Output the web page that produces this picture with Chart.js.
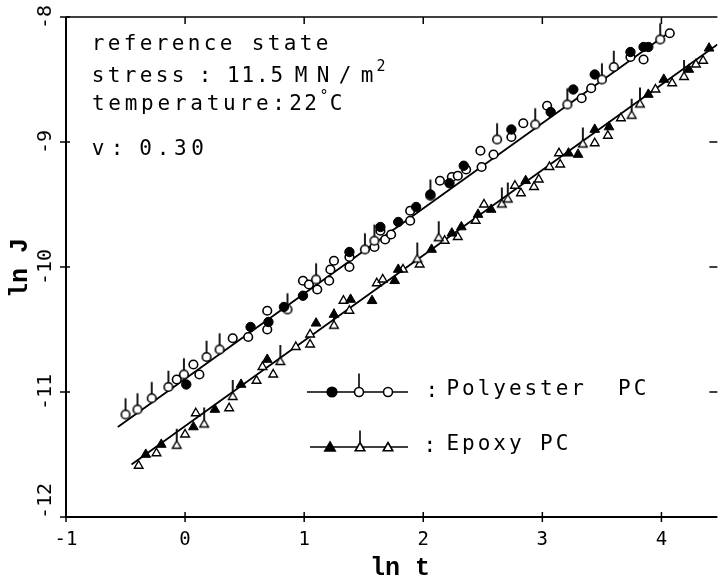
<!DOCTYPE html>
<html><head><meta charset="utf-8">
<script src="https://cdn.jsdelivr.net/npm/chart.js@4.4.0/dist/chart.umd.min.js"></script>
<style>html,body{margin:0;padding:0;background:#fff}canvas{display:block}</style>
</head><body>
<canvas id="c" width="724" height="582"></canvas>
<script>
// ---------- data (ln t, ln J) ----------
const polyFilledX = [0.01, 0.55, 0.70, 0.83, 0.99, 1.38, 1.64, 1.79, 1.94, 2.06, 2.22, 2.34, 2.74, 3.07, 3.26, 3.44, 3.74, 3.85, 3.89];
const polyFilledY = [-10.94, -10.48, -10.44, -10.32, -10.23, -9.88, -9.68, -9.64, -9.52, -9.42, -9.33, -9.19, -8.90, -8.76, -8.58, -8.46, -8.28, -8.24, -8.24];

const polyPipX = [-0.50, -0.40, -0.28, -0.14, -0.01, 0.18, 0.29, 0.86, 1.10, 1.51, 1.59, 2.06, 2.62, 2.94, 3.21, 3.50, 3.60, 3.99];
const polyPipY = [-11.18, -11.14, -11.05, -10.96, -10.86, -10.72, -10.66, -10.34, -10.10, -9.86, -9.79, -9.43, -8.98, -8.86, -8.70, -8.50, -8.40, -8.18];

const polyOpenX = [-0.07, 0.07, 0.12, 0.40, 0.53, 0.69, 0.69, 0.99, 1.04, 1.11, 1.21, 1.22, 1.25, 1.38, 1.38, 1.59, 1.64, 1.68, 1.73, 1.89, 1.89, 2.14, 2.24, 2.29, 2.36, 2.48, 2.49, 2.59, 2.74, 2.84, 3.04, 3.33, 3.41, 3.74, 3.85, 4.07];
const polyOpenY = [-10.90, -10.78, -10.86, -10.57, -10.56, -10.35, -10.50, -10.11, -10.14, -10.18, -10.11, -10.02, -9.95, -9.92, -10.00, -9.84, -9.71, -9.78, -9.74, -9.55, -9.63, -9.31, -9.28, -9.27, -9.22, -9.07, -9.20, -9.10, -8.96, -8.85, -8.71, -8.65, -8.57, -8.32, -8.34, -8.13];

const epoxyFilledX = [-0.33, -0.20, 0.07, 0.25, 0.47, 0.69, 1.10, 1.25, 1.39, 1.57, 1.76, 1.79, 2.07, 2.24, 2.32, 2.46, 2.57, 2.86, 3.22, 3.30, 3.44, 3.56, 3.89, 4.02, 4.23, 4.40];
const epoxyFilledY = [-11.50, -11.42, -11.28, -11.14, -10.94, -10.74, -10.45, -10.38, -10.26, -10.27, -10.11, -10.02, -9.86, -9.73, -9.68, -9.58, -9.54, -9.31, -9.09, -9.10, -8.90, -8.88, -8.62, -8.50, -8.42, -8.25];

const epoxyPipX = [-0.07, 0.16, 0.40, 0.80, 1.25, 1.95, 2.13, 2.66, 2.71, 3.34, 3.75, 3.82, 4.19];
const epoxyPipY = [-11.43, -11.26, -11.04, -10.76, -10.47, -9.94, -9.77, -9.50, -9.46, -9.02, -8.79, -8.70, -8.48];

const epoxyOpenX = [-0.39, -0.24, 0.00, 0.09, 0.37, 0.60, 0.65, 0.74, 0.93, 1.05, 1.05, 1.38, 1.33, 1.61, 1.66, 1.83, 1.97, 2.18, 2.29, 2.44, 2.51, 2.77, 2.82, 2.93, 2.97, 3.06, 3.14, 3.15, 3.44, 3.55, 3.66, 3.95, 4.09, 4.29, 4.35];
const epoxyOpenY = [-11.59, -11.49, -11.34, -11.17, -11.13, -10.91, -10.80, -10.86, -10.64, -10.54, -10.62, -10.35, -10.27, -10.13, -10.10, -10.02, -9.98, -9.79, -9.76, -9.63, -9.50, -9.35, -9.41, -9.36, -9.30, -9.20, -9.09, -9.18, -9.01, -8.95, -8.81, -8.58, -8.53, -8.38, -8.35];

const polyFitX = [-0.565, 4.07];
const polyFitY = [-11.28, -8.12];
const epoxyFitX = [-0.45, 4.47];
const epoxyFitY = [-11.58, -8.22];

const xTicks = [-1, 0, 1, 2, 3, 4];
const xTickLabels = ['-1', '0', '1', '2', '3', '4'];
const yTicks = [-12, -11, -10, -9, -8];
const yTickLabels = ['-12', '-11', '-10', '-9', '-8'];

const xTitle = 'ln t';
const yTitle = 'ln J';
const legendLabels = ['Polyester  PC', 'Epoxy PC'];

// ---------- helpers ----------
const zip = (xs, ys) => xs.map((v, i) => ({x: v, y: ys[i]}));
const MONO = '"DejaVu Sans Mono", monospace';

function pipCanvas(kind, r, stick, lw) {
  const W = 2 * Math.ceil(r + 2), half = Math.ceil(r + stick + 2), H = 2 * half;
  const c = document.createElement('canvas'); c.width = W; c.height = H;
  const g = c.getContext('2d'); const cx = W / 2, cy = half;
  g.lineWidth = lw; g.strokeStyle = '#000'; g.fillStyle = '#fff';
  g.beginPath();
  if (kind === 'circle') {
    g.arc(cx, cy, r, 0, Math.PI * 2);
  } else {
    for (let i = 0; i < 3; i++) {
      const a = i * 2 * Math.PI / 3;
      const px = cx + Math.sin(a) * r, py = cy - Math.cos(a) * r;
      i ? g.lineTo(px, py) : g.moveTo(px, py);
    }
    g.closePath();
  }
  g.fill(); g.stroke();
  g.lineWidth = 1.8; g.beginPath(); g.moveTo(cx, cy - r); g.lineTo(cx, cy - r - stick); g.stroke();
  return c;
}
const pipCircle = pipCanvas('circle', 4.3, 12, 1.6);
const pipTri = pipCanvas('tri', 5, 12, 1.4);

function drawMarker(ctx, kind, filled, x, y, r, stick) {
  ctx.save();
  ctx.lineWidth = 1.6; ctx.strokeStyle = '#000'; ctx.fillStyle = filled ? '#000' : '#fff';
  ctx.beginPath();
  if (kind === 'circle') ctx.arc(x, y, r, 0, Math.PI * 2);
  else {
    for (let i = 0; i < 3; i++) {
      const a = i * 2 * Math.PI / 3;
      const px = x + Math.sin(a) * r, py = y - Math.cos(a) * r;
      i ? ctx.lineTo(px, py) : ctx.moveTo(px, py);
    }
    ctx.closePath();
  }
  ctx.fill(); ctx.stroke();
  if (stick) { ctx.lineWidth = 1.6; ctx.beginPath(); ctx.moveTo(x, y - r); ctx.lineTo(x, y - r - stick); ctx.stroke(); }
  ctx.restore();
}
function spaced(ctx, text, x, y, adv) {
  for (let i = 0; i < text.length; i++) {
    ctx.fillText(text[i], x + i * adv + adv / 2, y);
  }
}

const deco = {
  id: 'deco',
  afterDraw(chart) {
    const {ctx, chartArea: a, scales: {x, y}} = chart;
    ctx.save();
    ctx.strokeStyle = '#000'; ctx.fillStyle = '#000';
    // frame
    ctx.lineWidth = 2;
    ctx.beginPath(); ctx.moveTo(a.left, a.top); ctx.lineTo(a.left, a.bottom); ctx.lineTo(a.right, a.bottom); ctx.stroke();
    ctx.lineWidth = 1.5;
    ctx.beginPath(); ctx.moveTo(a.left, a.top); ctx.lineTo(a.right, a.top); ctx.stroke();
    // ticks
    ctx.lineWidth = 1.5;
    xTicks.forEach(v => {
      const px = x.getPixelForValue(v);
      ctx.beginPath(); ctx.moveTo(px, a.bottom - 5); ctx.lineTo(px, a.bottom + 5); ctx.stroke();
      ctx.beginPath(); ctx.moveTo(px, a.top); ctx.lineTo(px, a.top + 7); ctx.stroke();
    });
    yTicks.forEach(v => {
      const py = y.getPixelForValue(v);
      ctx.beginPath(); ctx.moveTo(a.left - 6, py); ctx.lineTo(a.left + 4, py); ctx.stroke();
      if (v > -12 && v < -8) { ctx.beginPath(); ctx.moveTo(a.right - 8, py); ctx.lineTo(a.right, py); ctx.stroke(); }
    });
    // tick labels
    ctx.font = '19px ' + MONO; ctx.textAlign = 'center'; ctx.textBaseline = 'alphabetic';
    xTicks.forEach((v, i) => ctx.fillText(xTickLabels[i], x.getPixelForValue(v), a.bottom + 28));
    ctx.font = '20px ' + MONO; ctx.textBaseline = 'middle';
    yTicks.forEach((v, i) => {
      const py = Math.min(y.getPixelForValue(v), a.bottom - 16);
      ctx.save(); ctx.translate(a.left - 20, Math.max(py, a.top - 2)); ctx.rotate(-Math.PI / 2);
      ctx.fillText(yTickLabels[i], 0, 0); ctx.restore();
    });
    // axis titles
    ctx.font = 'bold 25px "Liberation Mono", monospace'; ctx.textBaseline = 'alphabetic';
    ctx.fillText(xTitle, a.left + 334, a.bottom + 58);
    ctx.save(); ctx.translate(a.left - 39, a.top + 251); ctx.rotate(-Math.PI / 2);
    ctx.fillText(yTitle, 0, 0); ctx.restore();
    // annotation
    ctx.font = '21px ' + MONO; ctx.textAlign = 'center'; ctx.textBaseline = 'alphabetic';
    const L = a.left + 24;
    spaced(ctx, 'reference state', L, a.top + 33, 16);
    spaced(ctx, 'stress', L, a.top + 65, 16);
    spaced(ctx, ':', L + 107, a.top + 65, 16);
    spaced(ctx, '11.5', L + 136, a.top + 65, 14.5);
    spaced(ctx, 'MN/m', L + 200, a.top + 65, 22);
    ctx.font = '15px ' + MONO; ctx.fillText('2', L + 291, a.top + 54);
    ctx.font = '21px ' + MONO;
    spaced(ctx, 'temperature:', L, a.top + 93, 16.4);
    spaced(ctx, '22', L + 198, a.top + 93, 15);
    ctx.font = '15px ' + MONO; ctx.fillText('°', L + 234, a.top + 84);
    ctx.font = '21px ' + MONO; spaced(ctx, 'C', L + 238, a.top + 93, 16);
    spaced(ctx, 'v', L, a.top + 138, 16);
    spaced(ctx, ':', L + 19, a.top + 138, 16);
    spaced(ctx, '0.30', L + 47, a.top + 138, 17.3);
    // legend
    const r1 = a.top + 375, r2 = a.top + 430;
    ctx.lineWidth = 1.6;
    ctx.beginPath(); ctx.moveTo(a.left + 241, r1); ctx.lineTo(a.left + 342, r1); ctx.stroke();
    ctx.beginPath(); ctx.moveTo(a.left + 244, r2); ctx.lineTo(a.left + 342, r2); ctx.stroke();
    drawMarker(ctx, 'circle', true, a.left + 266, r1, 4.8, 0);
    drawMarker(ctx, 'circle', false, a.left + 293, r1, 4.5, 14);
    drawMarker(ctx, 'circle', false, a.left + 322, r1, 4.5, 0);
    drawMarker(ctx, 'tri', true, a.left + 264, r2 + 1, 6, 0);
    drawMarker(ctx, 'tri', false, a.left + 294, r2 + 1, 5.5, 12);
    drawMarker(ctx, 'tri', false, a.left + 322, r2 + 1, 5.5, 0);
    ctx.font = '21px ' + MONO; ctx.textBaseline = 'middle';
    spaced(ctx, ':', a.left + 358, r1, 15.6);
    spaced(ctx, legendLabels[0], a.left + 379, r1 - 2, 15.6);
    spaced(ctx, ':', a.left + 356, r2, 15.6);
    spaced(ctx, legendLabels[1], a.left + 379, r2 - 2, 15.6);
    ctx.restore();
  }
};

const openCircle = {pointStyle: 'circle', pointRadius: 4.3, pointBackgroundColor: '#fff', pointBorderColor: '#000', pointBorderWidth: 1.6};
const fillCircle = {pointStyle: 'circle', pointRadius: 4.7, pointBackgroundColor: '#000', pointBorderColor: '#000', pointBorderWidth: 1};
const openTri = {pointStyle: 'triangle', pointRadius: 5, pointBackgroundColor: '#fff', pointBorderColor: '#000', pointBorderWidth: 1.4};
const fillTri = {pointStyle: 'triangle', pointRadius: 5.6, pointBackgroundColor: '#000', pointBorderColor: '#000', pointBorderWidth: 1};
const fitStyle = {type: 'line', showLine: true, borderColor: '#000', borderWidth: 1.8, pointRadius: 0, fill: false, order: 10};

new Chart(document.getElementById('c'), {
  type: 'scatter',
  data: {
    datasets: [
      Object.assign({label: 'Polyester fit', data: zip(polyFitX, polyFitY)}, fitStyle),
      Object.assign({label: 'Epoxy fit', data: zip(epoxyFitX, epoxyFitY)}, fitStyle),
      Object.assign({label: 'Polyester open', data: zip(polyOpenX, polyOpenY), order: 3}, openCircle),
      Object.assign({label: 'Polyester pip', data: zip(polyPipX, polyPipY), order: 2, pointStyle: pipCircle}),
      Object.assign({label: 'Polyester filled', data: zip(polyFilledX, polyFilledY), order: 1}, fillCircle),
      Object.assign({label: 'Epoxy open', data: zip(epoxyOpenX, epoxyOpenY), order: 3}, openTri),
      Object.assign({label: 'Epoxy pip', data: zip(epoxyPipX, epoxyPipY), order: 2, pointStyle: pipTri}),
      Object.assign({label: 'Epoxy filled', data: zip(epoxyFilledX, epoxyFilledY), order: 1}, fillTri)
    ]
  },
  options: {
    responsive: false, animation: false, devicePixelRatio: 1,
    layout: {padding: {left: 66, top: 17, right: 0, bottom: 65}},
    plugins: {legend: {display: false}, tooltip: {enabled: false}},
    scales: {
      x: {type: 'linear', min: -1, max: 4.47, display: false},
      y: {type: 'linear', min: -12, max: -8, display: false}
    }
  },
  plugins: [deco]
});
</script>
</body></html>
